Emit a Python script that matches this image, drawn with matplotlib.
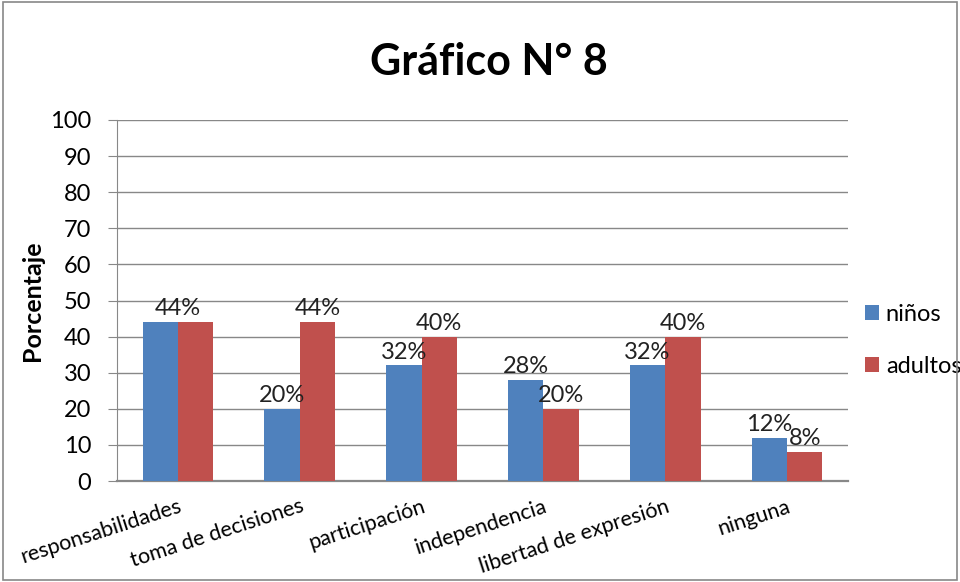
import numpy as np
import matplotlib.pyplot as plt
from matplotlib.patches import Rectangle

plt.rcParams['font.family'] = ['Lato', 'DejaVu Sans']

categorias = ['responsabilidades', 'toma de decisiones', 'participación',
              'independencia', 'libertad de expresión', 'ninguna']
ninos = [44, 20, 32, 28, 32, 12]
adultos = [44, 44, 40, 20, 40, 8]
yticks = [0, 10, 20, 30, 40, 50, 60, 70, 80, 90, 100]

azul = '#4F81BD'
rojo = '#C0504D'

fig = plt.figure(figsize=(9.6, 5.82), dpi=100)
ax = fig.add_axes([117 / 960, 1 - 481 / 582, 731 / 960, 361 / 582])

x = np.arange(len(categorias))
w = 0.29
b1 = ax.bar(x - w / 2, ninos, w, color=azul, label='niños', zorder=3)
b2 = ax.bar(x + w / 2, adultos, w, color=rojo, label='adultos', zorder=3)

# etiquetas de datos (si coinciden, Excel muestra solo una centrada)
for i, (r1, r2) in enumerate(zip(b1, b2)):
    if ninos[i] == adultos[i]:
        ax.text(x[i], ninos[i] + 0.8, f'{ninos[i]}%', ha='center', va='bottom',
                fontsize=17, color='#222222', zorder=4)
        continue
    ax.text(r1.get_x() + r1.get_width() / 2, ninos[i] + 0.8, f'{ninos[i]}%',
            ha='center', va='bottom', fontsize=17, color='#222222', zorder=4)
    ax.text(r2.get_x() + r2.get_width() / 2, adultos[i] + 0.8, f'{adultos[i]}%',
            ha='center', va='bottom', fontsize=17, color='#222222', zorder=4)

ax.set_xlim(-0.5, len(categorias) - 0.5)
ax.set_ylim(0, 100)
ax.set_yticks(yticks)
ax.tick_params(axis='y', labelsize=17, length=6.5, color='#888888', pad=12)
ax.yaxis.grid(True, color='#888888', linewidth=1, zorder=0)
ax.set_xticks(x)
ax.set_xticklabels(categorias, rotation=18, ha='right', rotation_mode='anchor',
                   fontsize=15.5)
ax.tick_params(axis='x', length=0, pad=11)
for s in ['top', 'right']:
    ax.spines[s].set_visible(False)
ax.spines['left'].set_color('#888888')
ax.spines['bottom'].set_color('#888888')
ax.spines['bottom'].set_linewidth(1.6)

ax.set_ylabel('Porcentaje', fontsize=18, fontweight='bold', labelpad=4)
fig.text(489 / 960, 1 - 62 / 582, 'Gráfico N° 8', ha='center', va='center',
         fontsize=31, fontweight='bold')

ax.legend(loc='center left', bbox_to_anchor=(1.0, 0.39), frameon=False,
          fontsize=17, handlelength=0.6, handleheight=0.6, labelspacing=1.3,
          handletextpad=0.3, borderaxespad=0.3)

fig.patches.append(Rectangle((0.003, 0.003), 0.994, 0.994, transform=fig.transFigure,
                             fill=False, edgecolor='#888888', linewidth=1.2))

fig.savefig('out.png', dpi=100)
